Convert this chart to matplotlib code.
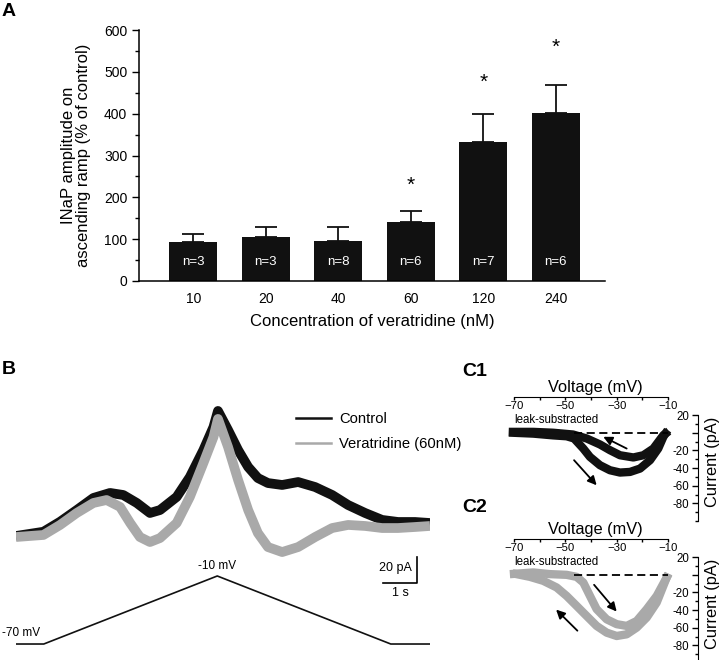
import numpy as np
import matplotlib
matplotlib.use('Agg')
import matplotlib.pyplot as plt
from matplotlib.lines import Line2D

plt.rcParams['font.family'] = ['Liberation Sans', 'DejaVu Sans']

# ---- Panel A: INaP amplitude vs veratridine concentration ----
conc_labels = ['10', '20', '40', '60', '120', '240']
amp_mean = [94, 105, 96, 142, 333, 402]
amp_err = [18, 23, 33, 25, 66, 67]
n_cells = [3, 3, 8, 6, 7, 6]
star_y = [None, None, None, 228, 474, 558]

# ---- Panel B: current traces during the voltage ramp (time s, current pA) ----
t_ctrl = [0.0, 0.79, 1.27, 1.75, 2.23, 2.71, 3.09, 3.48, 3.86, 4.15, 4.63, 5.01, 5.40, 5.69,
          5.82, 6.11, 6.40, 6.69, 6.97, 7.26, 7.67, 8.13, 8.62, 9.11, 9.57, 10.06, 10.55,
          11.01, 11.50, 11.93]
i_ctrl = [0.0, 3.3, 11.1, 20.2, 29.6, 33.5, 31.9, 25.7, 17.9, 20.2, 30.4, 45.9, 66.9, 84.8,
          97.3, 82.5, 66.9, 53.7, 45.1, 41.2, 39.7, 42.0, 38.1, 31.9, 24.1, 17.9, 12.5,
          10.9, 10.9, 10.1]
t_vera = [0.0, 0.79, 1.27, 1.75, 2.23, 2.61, 3.00, 3.29, 3.57, 3.86, 4.15, 4.63, 5.01, 5.40,
          5.69, 5.82, 6.11, 6.40, 6.69, 6.97, 7.26, 7.67, 8.13, 8.62, 9.11, 9.57, 10.06,
          10.55, 11.01, 11.50, 11.93]
i_vera = [-0.8, 0.8, 8.6, 17.9, 25.7, 28.0, 22.6, 10.1, -0.8, -4.7, -1.6, 10.1, 30.4, 56.8,
          77.0, 91.1, 69.3, 43.6, 20.2, 2.3, -8.6, -12.5, -8.6, -0.8, 6.2, 8.6, 7.8,
          6.2, 6.2, 7.0, 7.8]
ramp_t = [0.0, 0.8, 5.8, 10.8, 11.93]
ramp_v = [-70, -70, -10, -70, -70]

# ---- Panel C1: control I-V (leak subtracted), mV / pA ----
c1_asc_v = [-70.4, -62.5, -54.7, -49.5, -46.6, -43.0, -40.4, -36.5, -32.6, -28.7, -24.8,
            -20.9, -17.0, -13.8, -11.8, -11.0]
c1_asc_i = [0.0, -1.0, -3.0, -4.0, -6.5, -17.9, -27.4, -36.8, -42.5, -45.1, -44.4,
            -40.6, -31.1, -17.9, -4.6, -1.0]
c1_desc_v = [-11.0, -11.8, -15.7, -19.6, -23.5, -28.7, -32.6, -36.5, -41.7, -47.0, -54.7,
             -62.5, -70.4]
c1_desc_i = [-1.0, -2.7, -17.9, -25.5, -28.0, -25.5, -19.8, -13.3, -6.5, -2.0, 0.0, 1.0, 1.0]

# ---- Panel C2: veratridine I-V ----
c2_asc_v = [-70.0, -62.5, -56.0, -49.5, -45.6, -43.0, -40.4, -37.8, -33.9, -30.0, -26.1,
            -22.2, -18.3, -14.4, -10.5]
c2_asc_i = [1.0, 2.6, 0.7, -0.1, -2.4, -8.8, -24.0, -39.0, -50.5, -56.0, -58.0,
            -52.4, -39.0, -24.0, -3.1]
c2_desc_v = [-10.5, -14.4, -18.3, -22.2, -26.1, -30.0, -33.9, -37.8, -41.7, -45.6, -49.5,
             -53.4, -58.6, -63.8, -69.0]
c2_desc_i = [-3.1, -31.5, -48.5, -59.9, -67.5, -69.4, -65.6, -58.0, -46.7, -35.3, -24.0,
             -14.4, -6.9, -2.4, 0.7]

# arrows (tail, head) in mV / pA
c1_arrows = [((-26.1, -17.9), (-35.2, -4.6)), ((-46.6, -31.1), (-37.8, -59.5))]
c2_arrows = [((-38.8, -11.4), (-30.0, -41.7)), ((-45.3, -63.4), (-53.6, -39.5))]

BLACK = '#111111'
GRAY = '#a9a9a9'
W, H = 720, 660

fig = plt.figure(figsize=(7.2, 6.6), dpi=100)


def add_px(left, top, right, bottom):
    return fig.add_axes([left / W, 1 - bottom / H, (right - left) / W, (bottom - top) / H])


def fig_text(x, y, s, **kw):
    fig.text(x / W, 1 - y / H, s, **kw)


# ---------------- Panel A ----------------
axA = add_px(139, 30, 605, 281)
x = np.arange(len(amp_mean))
axA.bar(x, amp_mean, width=0.66, color=BLACK,
        yerr=[np.zeros(len(amp_err)), amp_err], capsize=8,
        error_kw=dict(elinewidth=1.3, capthick=1.3, ecolor=BLACK))
for xi, n in zip(x, n_cells):
    axA.text(xi, 46, f'n={n}', color='white', ha='center', va='center', fontsize=9.5)
for xi, sy in zip(x, star_y):
    if sy is not None:
        axA.text(xi, sy, '*', ha='center', va='center', fontsize=15)
axA.set_xlim(-0.75, 5.68)
axA.set_ylim(0, 600)
axA.set_xticks(x, conc_labels)
axA.set_yticks(np.arange(0, 601, 100))
axA.set_yticks(np.arange(50, 600, 100), minor=True)
axA.tick_params(axis='x', length=0, labelsize=10, pad=8)
axA.tick_params(axis='y', which='major', direction='out', length=5, width=1, labelsize=10)
axA.tick_params(axis='y', which='minor', direction='out', length=3, width=1)
for s in ['top', 'right']:
    axA.spines[s].set_visible(False)
for s in ['left', 'bottom']:
    axA.spines[s].set_linewidth(1.1)
axA.set_xlabel('Concentration of veratridine (nM)', fontsize=12, labelpad=6)
axA.set_ylabel('INaP amplitude on\nascending ramp (% of control)', fontsize=12,
               labelpad=9, linespacing=1.05)

# ---------------- Panel B ----------------
axB = add_px(16, 395, 430, 600)
axB.plot(t_ctrl, i_ctrl, color=BLACK, lw=7, solid_joinstyle='round', solid_capstyle='butt')
axB.plot(t_vera, i_vera, color=GRAY, lw=7, solid_joinstyle='round', solid_capstyle='butt')
axB.set_xlim(0, 11.93)
axB.set_ylim(-49.8, 109.7)
axB.axis('off')
# scale bar: 20 pA / 1 s
axB.plot([10.58, 11.56, 11.56], [-36.6, -36.6, -16.6], color='black', lw=1.2)
axB.text(11.41, -24.9, '20 pA', ha='right', va='center', fontsize=9)
axB.text(11.07, -40.0, '1 s', ha='center', va='top', fontsize=9)
handles = [Line2D([0], [0], color=BLACK, lw=1.8), Line2D([0], [0], color=GRAY, lw=1.8)]
axB.legend(handles, ['Control', 'Veratridine (60nM)'], loc='upper left',
           bbox_to_anchor=(296 / W, 1 - 412 / H), bbox_transform=fig.transFigure,
           frameon=False, fontsize=10.6, handlelength=2.4, handletextpad=0.55,
           borderpad=0, borderaxespad=0, labelspacing=0.75)

axR = add_px(16, 560, 430, 660)
axR.plot(ramp_t, ramp_v, color=BLACK, lw=1.2)
axR.set_xlim(0, 11.93)
axR.set_ylim(-84.1, 4.1)
axR.axis('off')
axR.text(5.8, -1.6, '-10 mV', ha='center', va='center', fontsize=8.5)
axR.text(-0.4, -60.7, '-70 mV', ha='left', va='center', fontsize=8.5)


# ---------------- Panels C1 / C2 ----------------
def iv_panel(top, asc_v, asc_i, desc_v, desc_i, color, arrows):
    ax = add_px(514, top, 668, top + 124)
    ax.plot(asc_v, asc_i, color=color, lw=6, clip_on=False, solid_joinstyle='round')
    ax.plot(desc_v, desc_i, color=color, lw=6, clip_on=False, solid_joinstyle='round')
    ax.plot([-46.6, -10], [0, 0], color='black', lw=1.3, dashes=(4.5, 2.5))
    for tail, head in arrows:
        ax.annotate('', xy=head, xytext=tail,
                    arrowprops=dict(arrowstyle='-|>', color='black', lw=1.3,
                                    mutation_scale=13, shrinkA=0, shrinkB=0))
    ax.set_xlim(-70, -10)
    ax.set_ylim(-100, 40.5)
    ax.patch.set_visible(False)
    ax.spines['top'].set_visible(False)
    ax.spines['right'].set_visible(False)
    ax.spines['bottom'].set_position(('axes', 1.0))
    ax.spines['left'].set_position(('axes', (698 - 514) / 154))
    ax.spines['left'].set_bounds(-100, 20)
    ax.set_xticks([-70, -50, -30, -10])
    ax.set_xticks([-60, -40, -20], minor=True)
    ax.set_yticks([20, 0, -20, -40, -60, -80], ['20', '', '-20', '-40', '-60', '-80'])
    ax.set_yticks(np.arange(-100, 20, 10), minor=True)
    ax.tick_params(axis='x', which='both', direction='out', length=2.5, width=1,
                   labelsize=8.2, pad=0.5)
    ax.tick_params(axis='y', which='major', direction='out', length=4.5, width=1,
                   labelsize=8.3, pad=2)
    ax.tick_params(axis='y', which='minor', direction='out', length=2.2, width=1)
    ax.text(-70, 14.5, 'leak-substracted', ha='left', va='center', fontsize=8.3)
    ax.text(-38.4, 51.8, 'Voltage (mV)', ha='center', va='center', fontsize=11.8,
            clip_on=False)
    ax.text(7.5, -33.1, 'Current (pA)', ha='center', va='center', rotation=90,
            fontsize=11.8, clip_on=False)
    return ax


iv_panel(397, c1_asc_v, c1_asc_i, c1_desc_v, c1_desc_i, BLACK, c1_arrows)
iv_panel(539, c2_asc_v, c2_asc_i, c2_desc_v, c2_desc_i, GRAY, c2_arrows)

# panel letters
fig_text(2, 12, 'A', fontsize=14, fontweight='bold', va='center', ha='left')
fig_text(2, 369, 'B', fontsize=14, fontweight='bold', va='center', ha='left')
fig_text(462, 371, 'C1', fontsize=14, fontweight='bold', va='center', ha='left')
fig_text(462, 508, 'C2', fontsize=14, fontweight='bold', va='center', ha='left')

fig.savefig('out.png', dpi=100)
